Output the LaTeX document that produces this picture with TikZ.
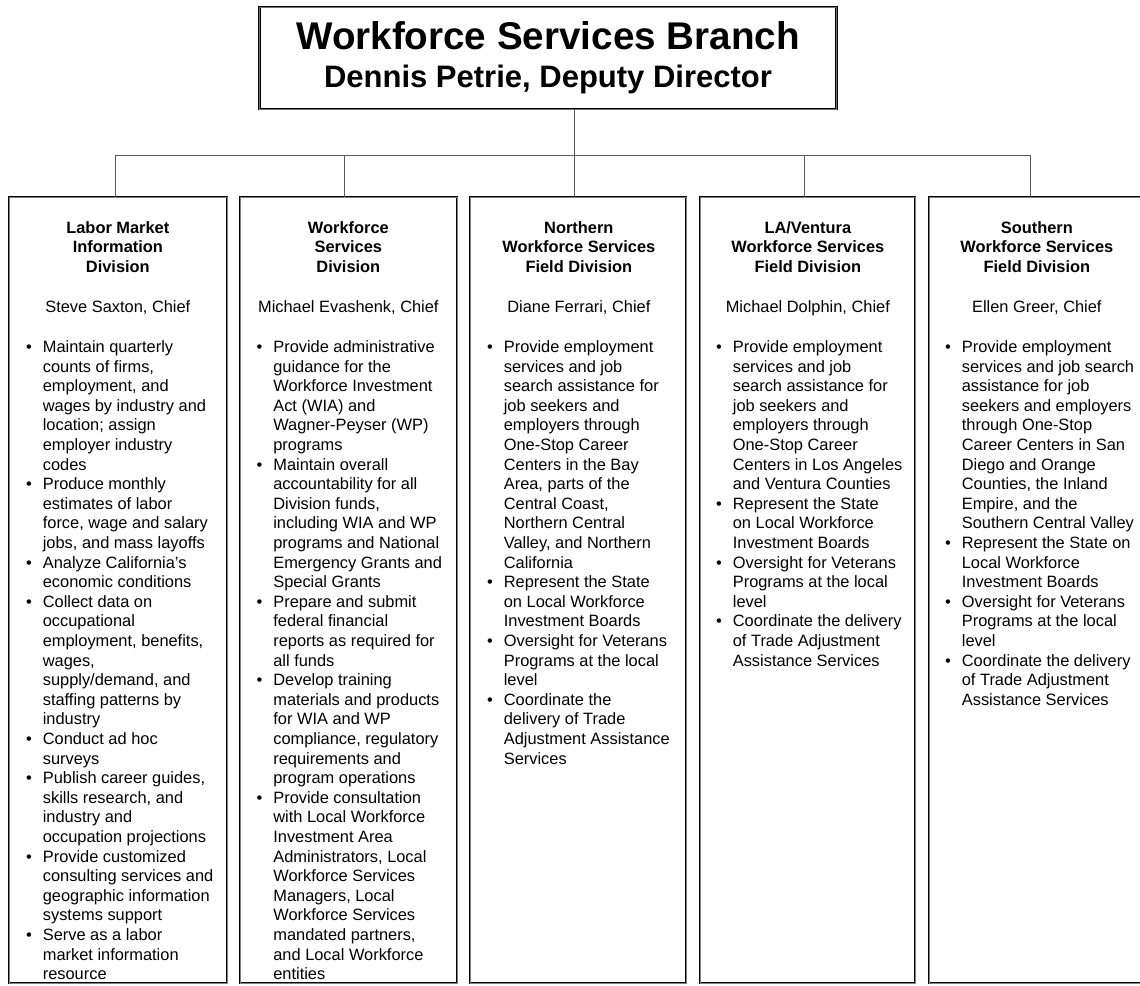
\documentclass[tikz,border=0pt]{standalone}
\usepackage{fontspec}
\setmainfont{Liberation Sans}
\usetikzlibrary{positioning}

\newcommand{\divbody}[3]{%
  \begin{minipage}{200pt}
    \fontsize{16.4}{19.6}\selectfont
    \centering{\bfseries #1\par}
    \vspace{20.5pt}#2\par
    \vspace{20.5pt}\raggedright
    \begin{list}{\textbullet}{%
      \setlength{\leftmargin}{25pt}\setlength{\labelwidth}{12pt}%
      \setlength{\labelsep}{11pt}\setlength{\rightmargin}{-30pt}%
      \setlength{\topsep}{0pt}\setlength{\partopsep}{0pt}%
      \setlength{\itemsep}{0pt}\setlength{\parsep}{0pt}}
      #3
    \end{list}
  \end{minipage}}

\tikzset{
  divframe/.style={draw=black, line width=0.7pt, double=black!50, double distance=0.8pt,
    anchor=north, minimum width=#1, minimum height=786pt, inner sep=0pt},
  divframe/.default=216pt,
  divtext/.style={inner sep=0pt},
  titlebox/.style={draw=black, line width=0.8pt, double=black!55, double distance=0.8pt,
    minimum width=577pt, minimum height=102pt, align=center, inner sep=0pt,
    font=\fontsize{31}{38}\selectfont\bfseries},
  conn/.style={draw=black!65, line width=0.8pt}
}

\begin{document}
\begin{tikzpicture}[x=1pt,y=-1pt]
  \useasboundingbox (0,0) rectangle (1140,985);
  \node[titlebox] (branch) at (548,58)
    {{\fontsize{38.6}{38}\selectfont Workforce Services Branch}\\
     Dennis Petrie, Deputy Director};

  % division frames
  \node[divframe=218pt] (lmi)  at (118,197)   {};
  \node[divframe=217pt] (wsd)  at (348.5,197) {};
  \node[divframe=216pt] (nfd)  at (578,197)   {};
  \node[divframe=215pt] (lafd) at (807.5,197) {};
  \node[divframe=226pt] (sfd)  at (1042,197)  {};

  % connectors
  \foreach \n/\x in {lmi/115,wsd/344,nfd/574,lafd/804,sfd/1030} {
    \coordinate (d\n) at (\x,155);
    \draw[conn] (d\n) -- (d\n |- \n.north);
  }
  \draw[conn] (dlmi) -- (dsfd);
  \draw[conn] (branch.south -| dnfd) -- (dnfd);

  % division texts
  \node[divtext, below right=24pt and 9pt of lmi.north west] (lmitext) {\divbody{Labor Market\\Information\\Division}{Steve Saxton, Chief}{%
    \item Maintain quarterly\\counts of firms,\\employment, and\\wages by industry and\\location; assign\\employer industry\\codes
    \item Produce monthly\\estimates of labor\\force, wage and salary\\jobs, and mass layoffs
    \item Analyze California's\\economic conditions
    \item Collect data on\\occupational\\employment, benefits,\\wages,\\supply/demand, and\\staffing patterns by\\industry
    \item Conduct ad hoc\\surveys
    \item Publish career guides,\\skills research, and\\industry and\\occupation projections
    \item Provide customized\\consulting services and\\geographic information\\systems support
    \item Serve as a labor\\market information\\resource}};
  \node[divtext, below right=24pt and 8.5pt of wsd.north west] (wsdtext) {\divbody{Workforce\\Services\\Division}{Michael Evashenk, Chief}{%
    \item Provide administrative\\guidance for the\\Workforce Investment\\Act (WIA) and\\Wagner-Peyser (WP)\\programs
    \item Maintain overall\\accountability for all\\Division funds,\\including WIA and WP\\programs and National\\Emergency Grants and\\Special Grants
    \item Prepare and submit\\federal financial\\reports as required for\\all funds
    \item Develop training\\materials and products\\for WIA and WP\\compliance, regulatory\\requirements and\\program operations
    \item Provide consultation\\with Local Workforce\\Investment Area\\Administrators, Local\\Workforce Services\\Managers, Local\\Workforce Services\\mandated partners,\\and Local Workforce\\entities}};
  \node[divtext, below right=24pt and 9pt of nfd.north west] (nfdtext) {\divbody{Northern\\Workforce Services\\Field Division}{Diane Ferrari, Chief}{%
    \item Provide employment\\services and job\\search assistance for\\job seekers and\\employers through\\One-Stop Career\\Centers in the Bay\\Area, parts of the\\Central Coast,\\Northern Central\\Valley, and Northern\\California
    \item Represent the State\\on Local Workforce\\Investment Boards
    \item Oversight for Veterans\\Programs at the local\\level
    \item Coordinate the\\delivery of Trade\\Adjustment Assistance\\Services}};
  \node[divtext, below right=24pt and 8pt of lafd.north west] (lafdtext) {\divbody{LA/Ventura\\Workforce Services\\Field Division}{Michael Dolphin, Chief}{%
    \item Provide employment\\services and job\\search assistance for\\job seekers and\\employers through\\One-Stop Career\\Centers in Los Angeles\\and Ventura Counties
    \item Represent the State\\on Local Workforce\\Investment Boards
    \item Oversight for Veterans\\Programs at the local\\level
    \item Coordinate the delivery\\of Trade Adjustment\\Assistance Services}};
  \node[divtext, below right=24pt and 8pt of sfd.north west] (sfdtext) {\divbody{Southern\\Workforce Services\\Field Division}{Ellen Greer, Chief}{%
    \item Provide employment\\services and job search\\assistance for job\\seekers and employers\\through One-Stop\\Career Centers in San\\Diego and Orange\\Counties, the Inland\\Empire, and the\\Southern Central Valley
    \item Represent the State on\\Local Workforce\\Investment Boards
    \item Oversight for Veterans\\Programs at the local\\level
    \item Coordinate the delivery\\of Trade Adjustment\\Assistance Services}};
\end{tikzpicture}
\end{document}
